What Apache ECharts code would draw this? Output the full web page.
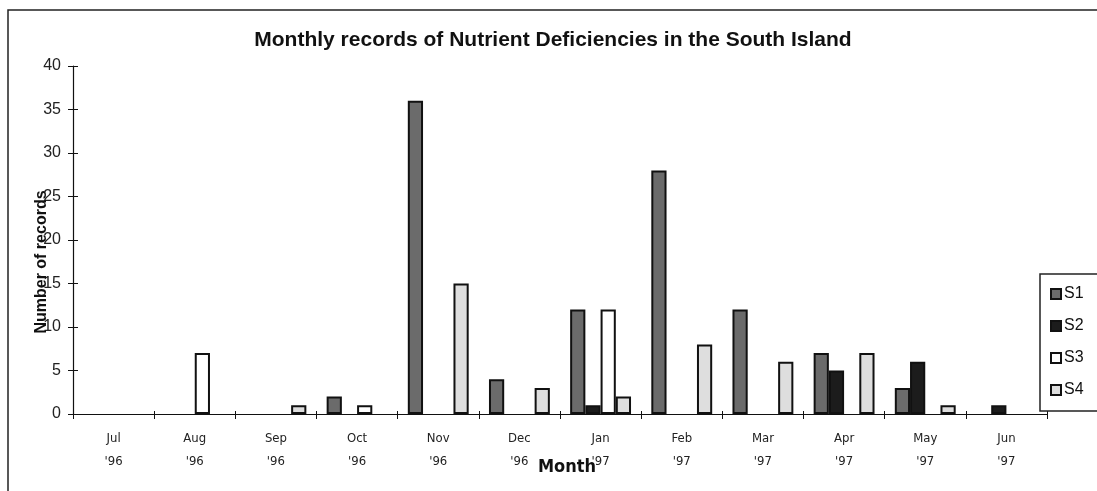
<!DOCTYPE html>
<html>
<head>
<meta charset="utf-8">
<script src="https://cdn.jsdelivr.net/npm/echarts@6/dist/echarts.min.js"></script>
<style>
  html, body { margin: 0; padding: 0; background: #ffffff; }
  #chart { width: 1097px; height: 491px; }
</style>
</head>
<body>
<div id="chart"></div>
<script>
// Month labels (two lines: month / year)
const months = ['Jul', 'Aug', 'Sep', 'Oct', 'Nov', 'Dec', 'Jan', 'Feb', 'Mar', 'Apr', 'May', 'Jun'];
const years = ["'96", "'96", "'96", "'96", "'96", "'96", "'97", "'97", "'97", "'97", "'97", "'97"];

// Records per month for each series
const s1 = [0, 0, 0, 2, 36, 4, 12, 28, 12, 7, 3, 0];
const s2 = [0, 0, 0, 0, 0, 0, 1, 0, 0, 5, 6, 1];
const s3 = [0, 7, 0, 1, 0, 0, 12, 0, 0, 0, 0, 0];
const s4 = [0, 0, 1, 0, 15, 3, 2, 8, 6, 7, 1, 0];

const yTicks = [0, 5, 10, 15, 20, 25, 30, 35, 40];

const categories = months.map((m, i) => m + '\n' + years[i]);

const chart = echarts.init(document.getElementById('chart'), null, { renderer: 'canvas' });

const GRID = { left: 73, right: 50, top: 66, bottom: 77 };
const SANS = '"Liberation Sans", Arial, sans-serif';
const NARROW = '"Liberation Sans Narrow", "DejaVu Sans Condensed", sans-serif';

function barSeries(name, data, fill) {
  return {
    name: name,
    type: 'bar',
    // empty months get no bar at all (no outline on the axis)
    data: data.map(v => (v === 0 ? null : v)),
    barGap: '0%',
    barCategoryGap: '25%',
    itemStyle: { color: fill, borderColor: '#111', borderWidth: 2 },
    emphasis: { disabled: true },
    animation: false
  };
}

chart.setOption({
  backgroundColor: '#ffffff',
  animation: false,
  graphic: [
    // outer frame
    { type: 'rect', shape: { x: 8, y: 10, width: 1200, height: 600 }, style: { fill: 'none', stroke: '#222', lineWidth: 1.5 }, z: 0, silent: true },
    // legend frame
    { type: 'rect', shape: { x: 1040, y: 274, width: 100, height: 137 }, style: { fill: '#fff', stroke: '#222', lineWidth: 1.5 }, z: 5, silent: true },
    // chart title
    {
      type: 'text', x: 553, y: 40, z: 10,
      style: { text: 'Monthly records of Nutrient Deficiencies in the South Island', font: 'bold 21px "Liberation Sans", Arial, sans-serif', fill: '#111', align: 'center', verticalAlign: 'middle' }
    },
    // y-axis name
    {
      type: 'text', x: 42, y: 262, rotation: Math.PI / 2, z: 10,
      style: { text: 'Number of records', font: 'bold 16px "Liberation Sans", Arial, sans-serif', fill: '#111', align: 'center', verticalAlign: 'middle' }
    },
    // x-axis name
    {
      type: 'text', x: 567, y: 467, z: 10,
      style: { text: 'Month', font: 'bold 18px "DejaVu Sans Condensed", sans-serif', fill: '#111', align: 'center', verticalAlign: 'middle' }
    }
  ],
  legend: {
    orient: 'vertical',
    left: 1045,
    top: 281,
    itemWidth: 10,
    itemHeight: 10,
    itemGap: 16,
    icon: 'rect',
    z: 10,
    textStyle: { fontFamily: SANS, fontSize: 16, color: '#111', padding: [0, 0, 0, -2] },
    data: ['S1', 'S2', 'S3', 'S4']
  },
  grid: GRID,
  xAxis: [{
    type: 'category',
    data: categories,
    axisLine: { lineStyle: { color: '#111', width: 1.2 } },
    axisTick: { show: true, alignWithLabel: false, length: 5, lineStyle: { color: '#111' } },
    axisLabel: {
      interval: 0,
      margin: 13,
      lineHeight: 23,
      fontFamily: NARROW,
      fontSize: 13,
      color: '#222'
    },
    splitLine: { show: false }
  }, {
    type: 'category',
    data: categories,
    position: 'bottom',
    axisLine: { show: false },
    axisTick: { show: true, inside: true, length: 3, lineStyle: { color: '#111' } },
    axisLabel: { show: false },
    splitLine: { show: false }
  }],
  yAxis: [{
    type: 'value',
    min: yTicks[0],
    max: yTicks[yTicks.length - 1],
    interval: yTicks[1] - yTicks[0],
    axisLine: { show: true, lineStyle: { color: '#111', width: 1.2 } },
    axisTick: { show: true, length: 5, lineStyle: { color: '#111' } },
    axisLabel: { margin: 12, fontFamily: SANS, fontSize: 16, color: '#222' },
    splitLine: { show: false }
  }, {
    type: 'value',
    position: 'left',
    min: yTicks[0],
    max: yTicks[yTicks.length - 1],
    interval: yTicks[1] - yTicks[0],
    axisLine: { show: false },
    axisTick: { show: true, inside: true, length: 5, lineStyle: { color: '#111' } },
    axisLabel: { show: false },
    splitLine: { show: false }
  }],
  series: [
    barSeries('S1', s1, '#6b6b6b'),
    barSeries('S2', s2, '#1c1c1c'),
    barSeries('S3', s3, '#ffffff'),
    barSeries('S4', s4, '#dedede')
  ]
});
</script>
</body>
</html>
